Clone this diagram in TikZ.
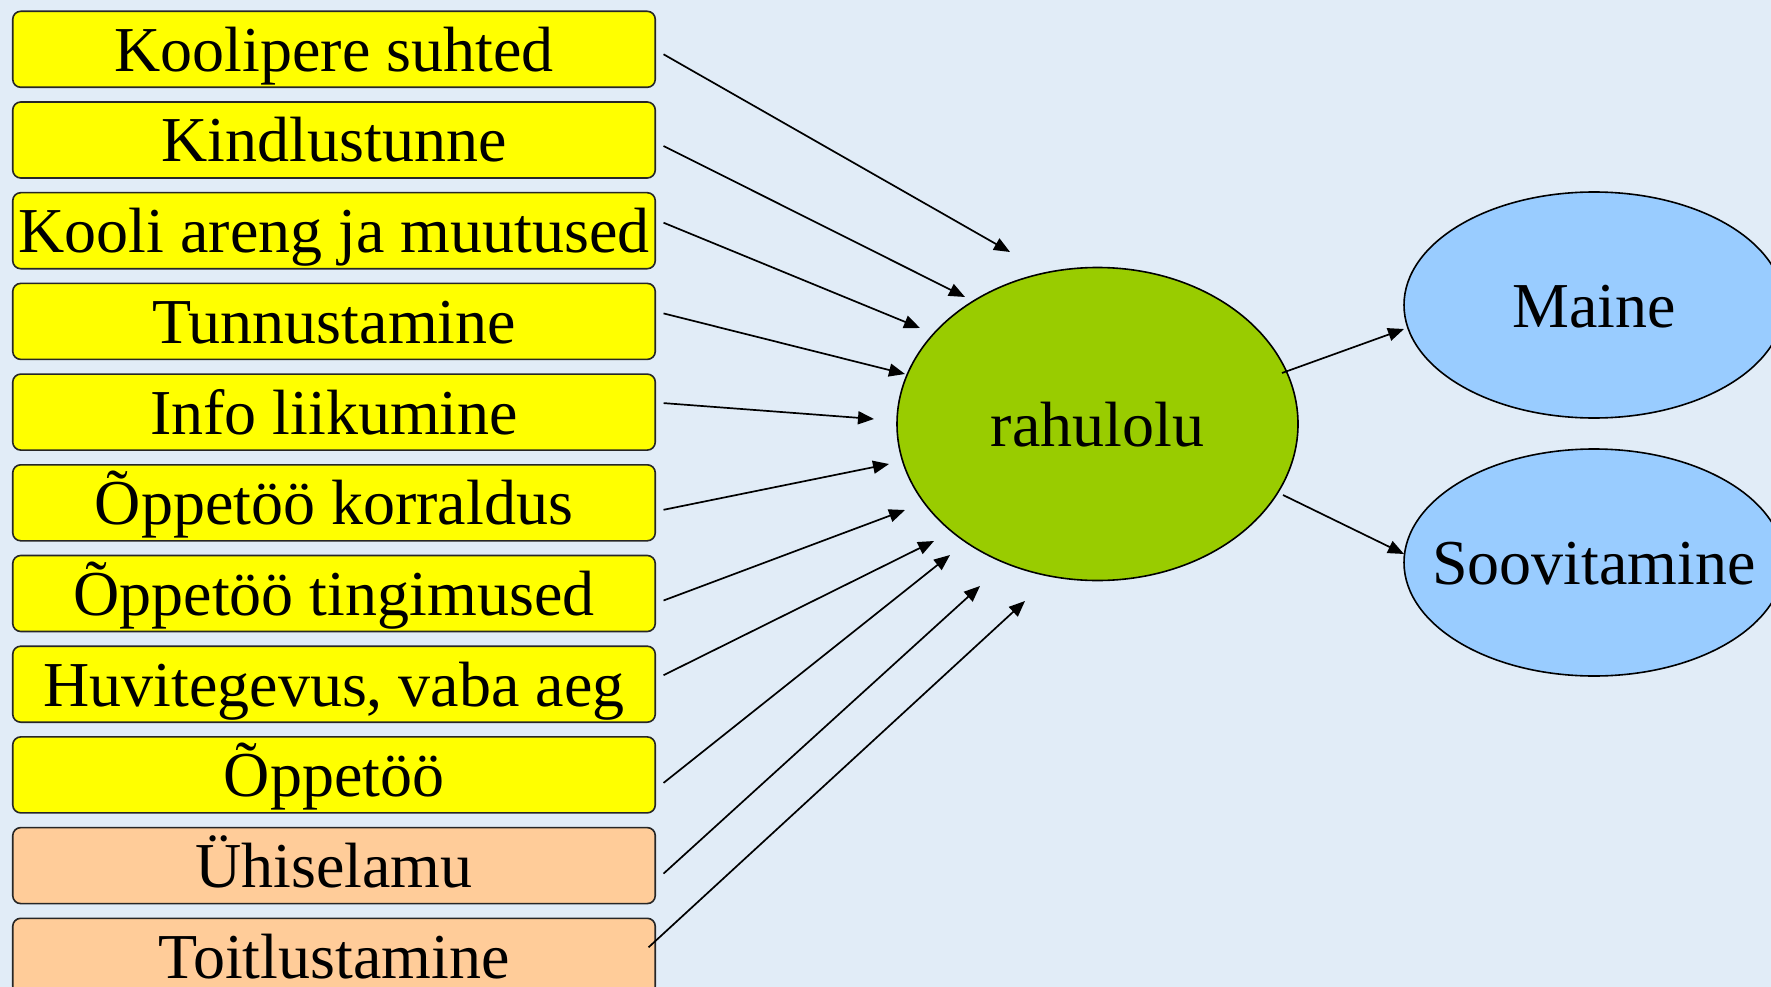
\documentclass[tikz,border=0pt]{standalone}
\usepackage{fontspec}
\setmainfont{Liberation Serif}
\usetikzlibrary{arrows.meta,shapes.geometric,calc}
\definecolor{bgcol}{RGB}{225,236,247}
\definecolor{yelcol}{RGB}{255,255,0}
\definecolor{peachcol}{RGB}{255,204,153}
\definecolor{greencol}{RGB}{153,204,0}
\definecolor{bluecol}{RGB}{153,204,255}
\begin{document}
\begin{tikzpicture}[x=1pt,y=-1pt,
  bigfont/.style={font=\fontsize{64}{70}\selectfont},
  box/.style={draw=black!85, line width=1.6pt, rounded corners=8pt,
    minimum width=642.5pt, minimum height=76pt, inner sep=0pt,
    text height=44pt, text depth=0pt, bigfont},
  yellowbox/.style={box, fill=yelcol},
  peachbox/.style={box, fill=peachcol},
  ell/.style={ellipse, draw=black, line width=1.6pt, inner sep=0pt},
  txt/.style={inner sep=0pt, text height=44pt, text depth=0pt, bigfont},
  arr/.style={-{Triangle[length=16pt,width=13pt]}, line width=1.7pt}
]
\fill[bgcol] (0,0) rectangle (1771,987);
\useasboundingbox (0,0) rectangle (1771,987);

% left boxes
\node[yellowbox] (b1)  at (334, 49.3)  {Koolipere suhted};
\node[yellowbox] (b2)  at (334, 140.0) {Kindlustunne};
\node[yellowbox] (b3)  at (334, 230.7) {Kooli areng ja muutused};
\node[yellowbox] (b4)  at (334, 321.4) {Tunnustamine};
\node[yellowbox] (b5)  at (334, 412.1) {Info liikumine};
\node[yellowbox] (b6)  at (334, 502.8) {Õppetöö korraldus};
\node[yellowbox] (b7)  at (334, 593.5) {Õppetöö tingimused};
\node[yellowbox] (b8)  at (334, 684.2) {Huvitegevus, vaba aeg};
\node[yellowbox] (b9)  at (334, 774.9) {Õppetöö};
\node[peachbox]  (b10) at (334, 865.6) {Ühiselamu};
\node[peachbox]  (b11) at (334, 956.3) {Toitlustamine};

% ellipses
\node[ell, fill=greencol, minimum width=401pt, minimum height=313pt] (rah) at (1097.5,424) {};
\node[txt] (raht) at (rah.center) {rahulolu};
\node[ell, fill=bluecol, minimum width=380pt, minimum height=226pt] (maine) at (1594,305) {};
\node[txt] (mainet) at (maine.center) {Maine};
\node[ell, fill=bluecol, minimum width=380pt, minimum height=227pt] (soov) at (1594,562.5) {};
\node[txt] (soovt) at (soov.center) {Soovitamine};

% arrow tips near rahulolu
\coordinate (t1)  at (1010,252);
\coordinate (t2)  at (965,297);
\coordinate (t3)  at (920,328);
\coordinate (t4)  at (905,374);
\coordinate (t5)  at (874,419);
\coordinate (t6)  at (889,464);
\coordinate (t7)  at (905,510);
\coordinate (t8)  at (934,541);
\coordinate (t9)  at (950,555);
\coordinate (t10) at (980,586);
\coordinate (t11) at (1025,601);

\draw[arr] ($(b1.east)+(7.5,5)$)   -- (t1);
\draw[arr] ($(b2.east)+(7.5,6)$)   -- (t2);
\draw[arr] ($(b3.east)+(7.5,-8)$)  -- (t3);
\draw[arr] ($(b4.east)+(7.5,-8)$)  -- (t4);
\draw[arr] ($(b5.east)+(7.5,-9)$)  -- (t5);
\draw[arr] ($(b6.east)+(7.5,7)$)   -- (t6);
\draw[arr] ($(b7.east)+(7.5,7)$)   -- (t7);
\draw[arr] ($(b8.east)+(7.5,-9)$)  -- (t8);
\draw[arr] ($(b9.east)+(7.5,8)$)   -- (t9);
\draw[arr] ($(b10.east)+(7.5,8)$)  -- (t10);
\draw[arr] ($(b11.east)+(-7.5,-9)$) -- (t11);

% outgoing arrows
\coordinate (s1) at (1282,373);
\coordinate (s2) at (1283,495);
\coordinate (m1) at (1404,329);
\coordinate (m2) at (1404,554);
\draw[arr] (s1) -- (m1);
\draw[arr] (s2) -- (m2);
\end{tikzpicture}
\end{document}
